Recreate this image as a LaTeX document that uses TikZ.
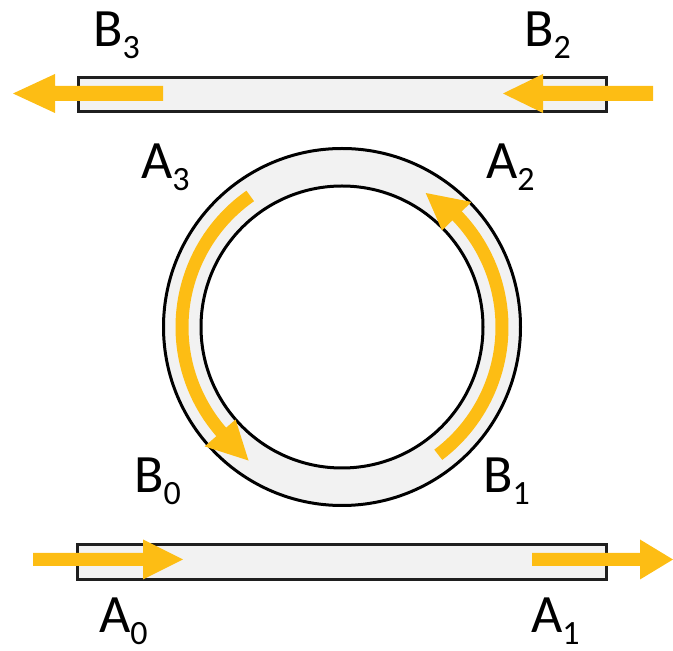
\documentclass[tikz,border=0pt]{standalone}
\usepackage{fontspec}
\setmainfont{Carlito}
\definecolor{gold}{HTML}{FDBD14}
\definecolor{wg}{HTML}{F2F2F2}
\newcommand{\lbl}[2]{#1\raisebox{-12pt}{\fontsize{34}{36}\selectfont #2}}
\begin{document}
\begin{tikzpicture}[x=1pt,y=1pt,
  lab/.style={anchor=base west, inner sep=0pt, font=\fontsize{54}{60}\selectfont},
  guide/.style={draw=black!88, line width=3pt, fill=wg, rectangle, inner sep=0pt},
  ringline/.style={draw=black, line width=3pt, circle, inner sep=0pt},
  shaft/.style={draw=gold, line width=13pt}]
\useasboundingbox (0,0) rectangle (673,651);
% waveguides
\node[guide, minimum width=528pt, minimum height=34pt] (top) at (342,556) {};
\node[guide, minimum width=529pt, minimum height=35pt] (bot) at (342,89) {};
% ring
\coordinate (c) at (342,324);
\node[ringline, fill=wg, minimum size=357pt] (outer) at (c) {};
\node[ringline, fill=white, minimum size=282pt] (inner) at (c) {};
% straight arrows
\fill[gold] (163,550) -- (55,550) -- (55,538) -- (13,557.5) -- (55,577) -- (55,565) -- (163,565) -- cycle;
\fill[gold] (653,550) -- (543,550) -- (543,538) -- (503,557.5) -- (543,577) -- (543,565) -- (653,565) -- cycle;
\fill[gold] (33,85) -- (143,85) -- (143,71.5) -- (183,91.5) -- (143,111.5) -- (143,98) -- (33,98) -- cycle;
\fill[gold] (532,85) -- (640,85) -- (640,71.5) -- (673,91.5) -- (640,111.5) -- (640,98) -- (532,98) -- cycle;
% ring arrows
\draw[shaft] ([shift={(c)}]125:160) arc[start angle=125, end angle=222, radius=160];
\fill[gold] ([shift={(c)}]221:141) -- ([shift={(c)}]221:182) -- ([shift={(c)}]235:163) -- cycle;
\draw[shaft] ([shift={(c)}]-53:160) arc[start angle=-53, end angle=45, radius=160];
\fill[gold] ([shift={(c)}]44:139) -- ([shift={(c)}]44:180) -- ([shift={(c)}]58:158) -- cycle;
% labels
\node[lab] (B3) at (93,604) {\lbl{B}{3}};
\node[lab] (B2) at (524,604) {\lbl{B}{2}};
\node[lab] (A3) at (141,472) {\lbl{A}{3}};
\node[lab] (A2) at (486,472) {\lbl{A}{2}};
\node[lab] (B0) at (134,158) {\lbl{B}{0}};
\node[lab] (B1) at (483,158) {\lbl{B}{1}};
\node[lab] (A0) at (99,18) {\lbl{A}{0}};
\node[lab] (A1) at (531,18) {\lbl{A}{1}};
\end{tikzpicture}
\end{document}
